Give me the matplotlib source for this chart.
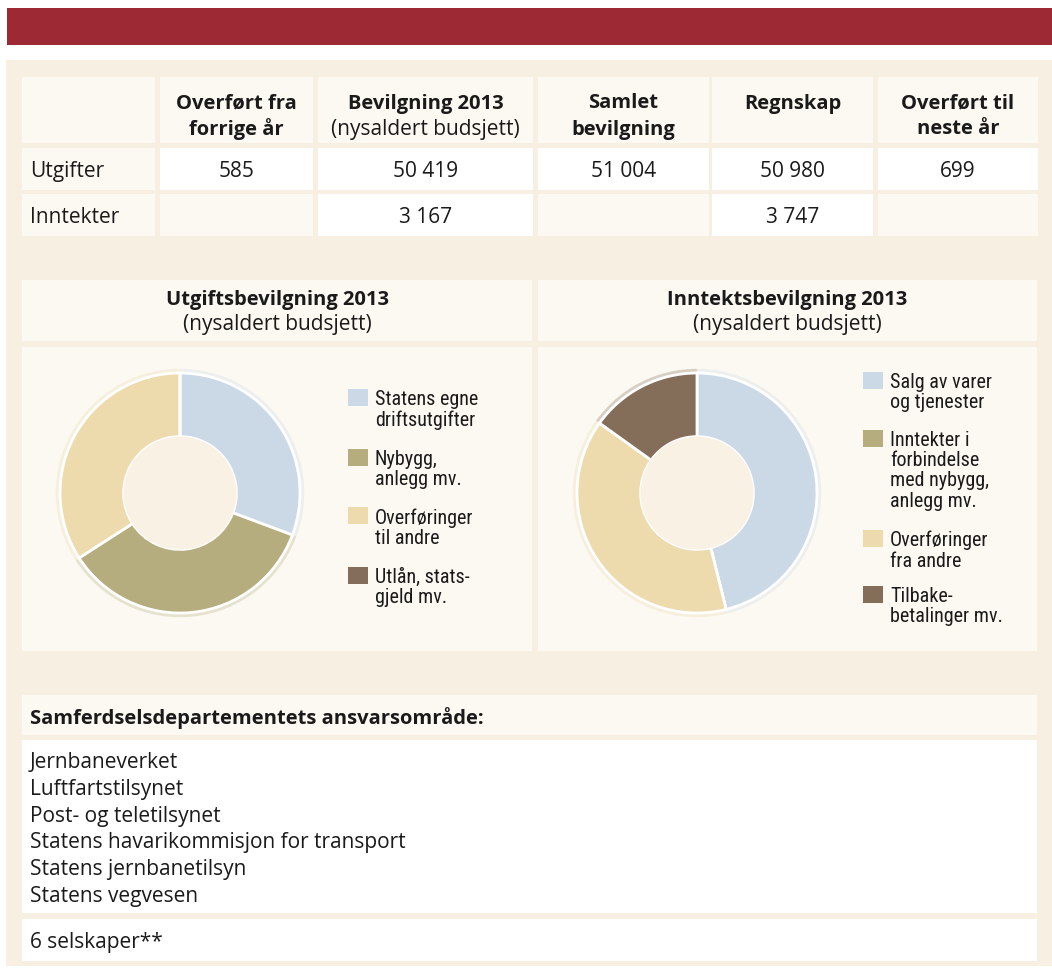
"""Samferdselsdepartementet: budget summary sheet with two donut charts."""

import matplotlib

matplotlib.use("Agg")

import matplotlib.pyplot as plt
from matplotlib import font_manager
from matplotlib.patches import Circle, Rectangle

# Data
col_titles = ["Overført fra\nforrige år", "Bevilgning 2013", "Samlet\nbevilgning", "Regnskap", "Overført til\nneste år"]
col_subtitles = ["", "(nysaldert budsjett)", "", "", ""]
row_labels = ["Utgifter", "Inntekter"]
utgifter = [585, 50419, 51004, 50980, 699]
inntekter = [None, 3167, None, 3747, None]

utg_title = "Utgiftsbevilgning 2013"
inn_title = "Inntektsbevilgning 2013"
pie_subtitle = "(nysaldert budsjett)"
utg_labels = ["Statens egne\ndriftsutgifter", "Nybygg,\nanlegg mv.", "Overføringer\ntil andre", "Utlån, stats-\ngjeld mv."]
utg_share = [30.7, 35.2, 34.1, 0.0]
inn_labels = ["Salg av varer\nog tjenester", "Inntekter i\nforbindelse\nmed nybygg,\nanlegg mv.",
              "Overføringer\nfra andre", "Tilbake-\nbetalinger mv."]
inn_share = [46.1, 0.0, 38.8, 15.1]

area_title = "Samferdselsdepartementets ansvarsområde:"
agencies = ["Jernbaneverket", "Luftfartstilsynet", "Post- og teletilsynet",
            "Statens havarikommisjon for transport", "Statens jernbanetilsyn", "Statens vegvesen"]
companies = "6 selskaper**"

# Style
RED = "#9d2935"
PANEL = "#f7f0e2"
CREAM = "#fcf9f2"
HOLE = "#f8f1e4"
INK = "#1a1a1a"
slice_colors = ["#cbd9e6", "#b5ad7e", "#eddbad", "#846e5a"]

fonts = font_manager.fontManager.ttflist
names = {f.name for f in fonts}
bold_names = {f.name for f in fonts if f.weight in (600, 700, "bold", "semibold")}
BODY = next(n for n in ["Noto Sans", "Open Sans", "Lato", "Roboto", "DejaVu Sans"]
            if n in bold_names)
NARROW = next(n for n in ["Liberation Sans Narrow", "Roboto Condensed", "Roboto", "DejaVu Sans"] if n in names)
plt.rcParams["font.family"] = [BODY, "DejaVu Sans"]

W, H = 1052, 968
FS = 15.0       # regular text
FS_BOLD = 14.5  # bold headings
DY = 2.5  # nudge for va="center" so glyphs sit like the reference

fig = plt.figure(figsize=(W / 100, H / 100), dpi=100, facecolor="white")
ax = fig.add_axes([0, 0, 1, 1])
ax.set_xlim(0, W)
ax.set_ylim(H, 0)
ax.axis("off")


def box(x0, y0, x1, y1, color):
    ax.add_patch(Rectangle((x0, y0), x1 - x0, y1 - y0, facecolor=color, edgecolor="none"))


def put(x, y, s, ha="left", bold=False):
    ax.text(x, y + DY, s, ha=ha, va="center", color=INK,
            fontsize=FS_BOLD if bold else FS,
            fontweight="bold" if bold else "normal")


def fmt(v):
    return "" if v is None else f"{v:,}".replace(",", " ")


# Banner and background panel
box(7, 8, W, 45, RED)
box(6, 60, W, 966, PANEL)

# Table
cols = [(22, 155), (160, 313), (318, 533), (538, 709), (712, 873), (878, 1038)]
rows = [(77, 143), (148, 190), (194, 236)]

for x0, x1 in cols:
    box(x0, rows[0][0], x1, rows[0][1], CREAM)
for (x0, x1), title, sub in zip(cols[1:], col_titles, col_subtitles):
    cx = (x0 + x1) / 2
    for k, line in enumerate(title.split("\n")):
        put(cx, 101 + 26 * k, line, ha="center", bold=True)
    if sub:
        put(cx, 127, sub, ha="center")

for (y0, y1), label, values in zip(rows[1:], row_labels, [utgifter, inntekter]):
    box(cols[0][0], y0, cols[0][1], y1, CREAM)
    put(30, (y0 + y1) / 2, label)
    for (x0, x1), v in zip(cols[1:], values):
        box(x0, y0, x1, y1, "white" if v is not None else CREAM)
        put((x0 + x1) / 2, (y0 + y1) / 2, fmt(v), ha="center")


# Donut panels
def donut(cx, cy, shares):
    r, pad = 120, 132
    pax = fig.add_axes([(cx - pad) / W, 1 - (cy + pad) / H, 2 * pad / W, 2 * pad / H])
    pax.pie(shares, colors=slice_colors, radius=1.035, startangle=90, counterclock=False,
            wedgeprops=dict(linewidth=0, alpha=0.3))
    pax.pie(shares, colors=slice_colors, radius=1.0, startangle=90, counterclock=False,
            wedgeprops=dict(width=0.53, edgecolor="white", linewidth=2))
    pax.add_patch(Circle((0, 0), 0.47, facecolor=HOLE, edgecolor="none"))
    pax.set_xlim(-pad / r, pad / r)
    pax.set_ylim(-pad / r, pad / r)
    pax.set_aspect("equal")
    pax.axis("off")


def legend(sx, tops, labels):
    for top, label, color in zip(tops, labels, slice_colors):
        box(sx, top, sx + 20, top + 17, color)
        ax.text(sx + 27, top + 1, label, ha="left", va="top", fontsize=14.5,
                family=[NARROW, "DejaVu Sans"], linespacing=1.08, color=INK)


panels = [(22, 532), (538, 1037)]
for (x0, x1), title in zip(panels, [utg_title, inn_title]):
    box(x0, 280, x1, 341, CREAM)
    box(x0, 347, x1, 651, CREAM)
    cx = (x0 + x1) / 2
    put(cx, 297, title, ha="center", bold=True)
    put(cx, 322, pie_subtitle, ha="center")

donut(180, 493, utg_share)
donut(697, 493, inn_share)
legend(348, [389, 449, 507, 567], utg_labels)
legend(863, [372, 430, 530, 586], inn_labels)

# Area of responsibility
box(22, 695, 1037, 735, CREAM)
put(30, 716, area_title, bold=True)
box(22, 740, 1037, 913, "white")
for i, name in enumerate(agencies):
    put(30, 760 + 26.8 * i, name)
box(22, 919, 1037, 961, "white")
put(30, 940, companies)

fig.savefig("out.png", dpi=100, facecolor="white")
